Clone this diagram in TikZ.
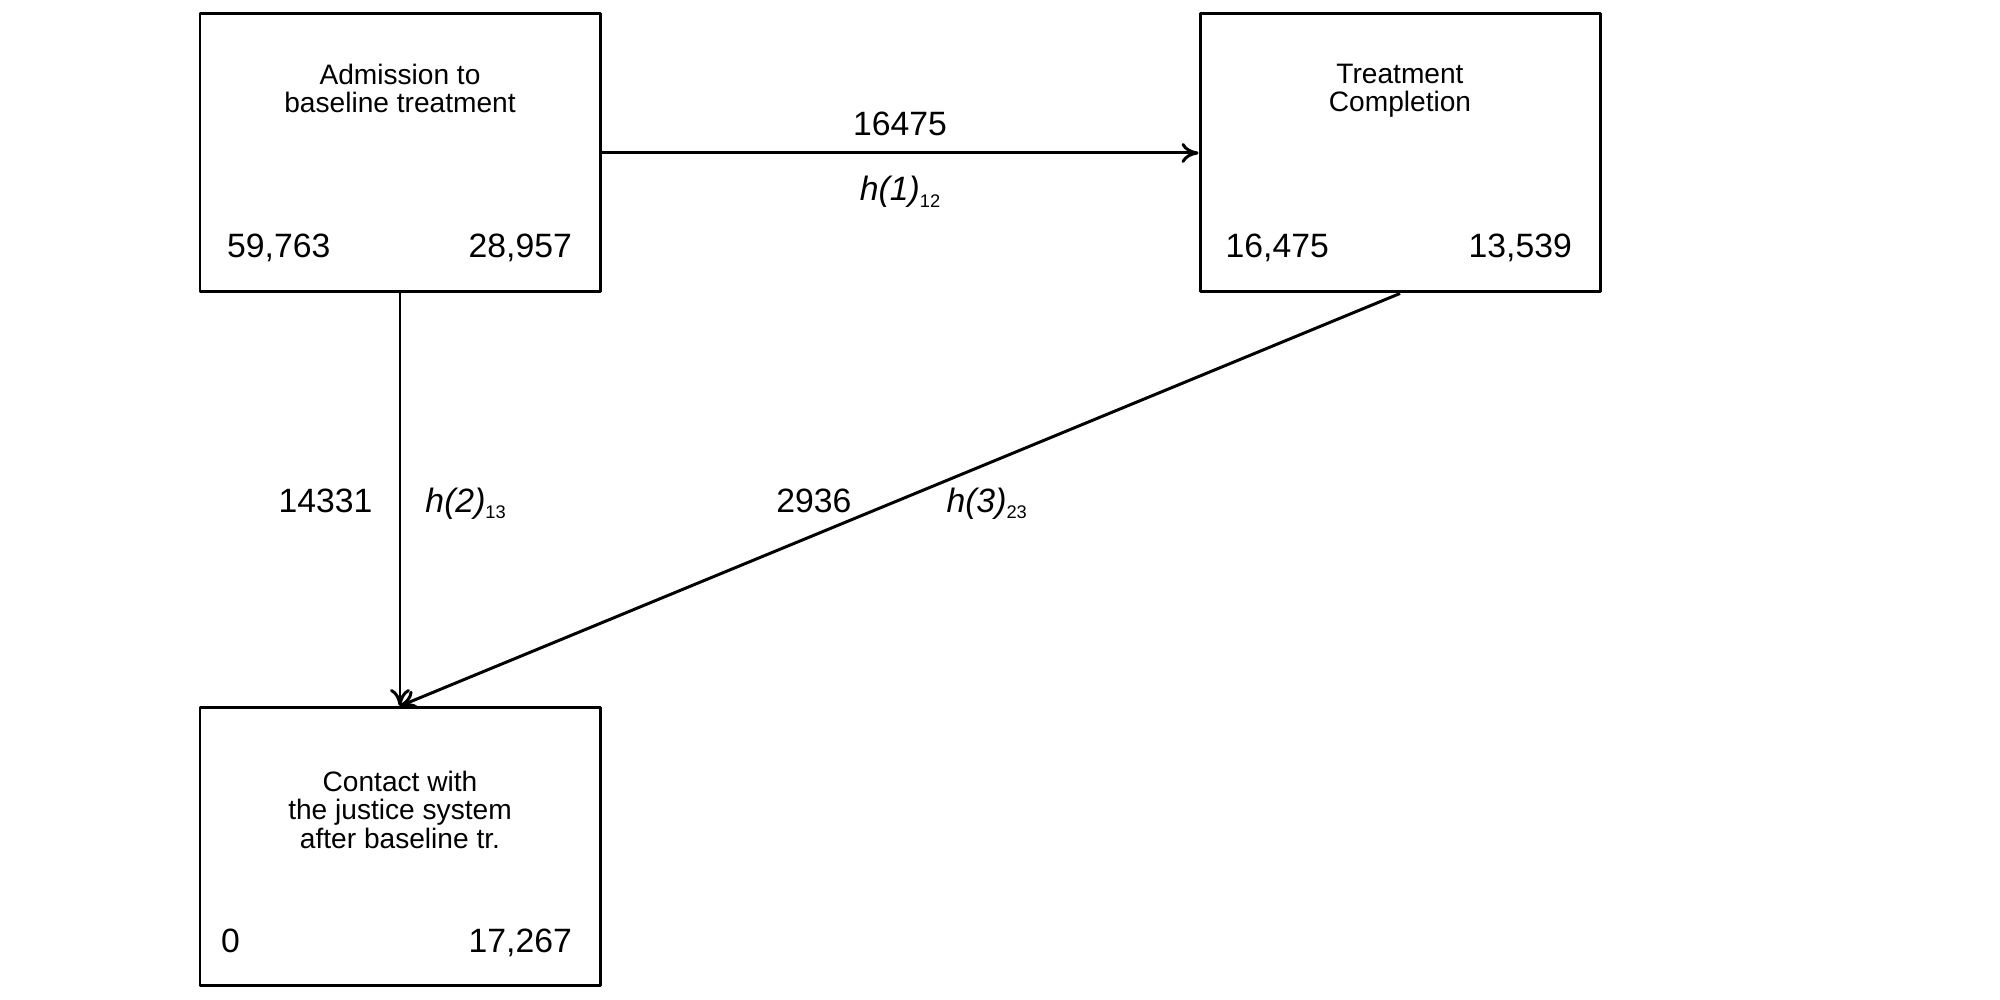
\documentclass[tikz,border=0pt]{standalone}
\usepackage{fontspec}
\setmainfont{Liberation Sans}
\usetikzlibrary{arrows.meta}
\newcommand{\hlab}[2]{\textit{h(#1)}\raisebox{-0.35ex}{\fontsize{5.2}{6}\selectfont #2}}
\begin{document}
\begin{tikzpicture}[
  state/.style={draw,rectangle,line width=0.85pt,line join=round,minimum width=4cm,minimum height=2.78cm,inner sep=0pt},
  title/.style={align=center,inner sep=0pt,font=\fontsize{8}{8.2}\selectfont},
  count/.style={inner sep=0pt,font=\fontsize{9.6}{11}\selectfont},
  arr/.style={line width=0.85pt,-{To[length=1.7mm,width=2mm]}}]
  \useasboundingbox (0,0) rectangle (20,10);
  \node[state] (adm) at (4,8.47) {};
  \node[state] (compl) at (14,8.47) {};
  \node[state] (contact) at (4,1.535) {};
  \node[title,anchor=north] (admtxt) at (4,9.37) {Admission to\\baseline treatment};
  \node[title,anchor=north] (compltxt) at (14,9.37) {Treatment\\Completion};
  \node[title,anchor=north] (contacttxt) at (4,2.30) {Contact with\\the justice system\\after baseline tr.};
  \node[count,anchor=base west] (admin) at (2.265,7.42) {59,763};
  \node[count,anchor=base east] (admout) at (5.725,7.42) {28,957};
  \node[count,anchor=base west] (complin) at (12.25,7.42) {16,475};
  \node[count,anchor=base east] (complout) at (15.725,7.42) {13,539};
  \node[count,anchor=base west] (contactin) at (2.205,0.47) {0};
  \node[count,anchor=base east] (contactout) at (5.725,0.47) {17,267};
  \draw[arr] (adm.east) -- node[count,anchor=base,yshift=0.17cm] {16475} node[count,anchor=base,yshift=-0.48cm] {\hlab{1}{12}} (compl.west);
  \draw[arr] (adm.south) -- node[count,anchor=base east,xshift=-0.26cm,yshift=-0.13cm] {14331} node[count,anchor=base west,xshift=0.24cm,yshift=-0.13cm] {\hlab{2}{13}} (contact.north);
  \draw[arr] (compl.south) -- node[count,anchor=base east,xshift=-0.47cm,yshift=-0.13cm] {2936} node[count,anchor=base west,xshift=0.45cm,yshift=-0.13cm] {\hlab{3}{23}} (contact.north);
\end{tikzpicture}
\end{document}
